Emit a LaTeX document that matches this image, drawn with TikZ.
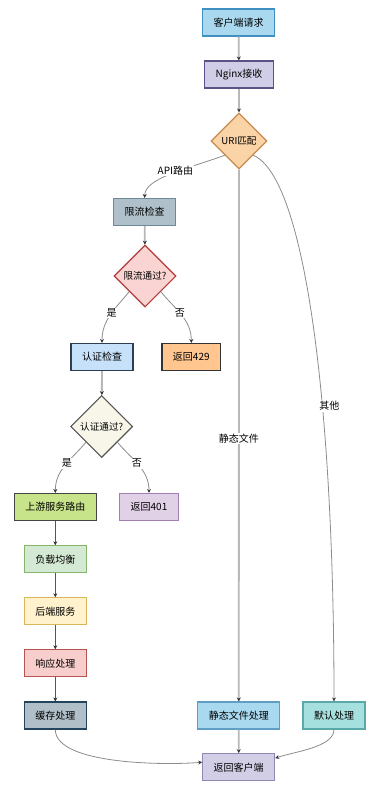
\documentclass[tikz,border=0pt]{standalone}
\usepackage{fontspec}
\setmainfont{Noto Sans CJK SC}
\usetikzlibrary{shapes.geometric, arrows.meta}

\definecolor{arrowdark}{HTML}{333333}
\definecolor{trunkgray}{HTML}{B8B8B8}
\definecolor{bendgray}{HTML}{8C8C8C}
\definecolor{chaingray}{HTML}{555555}

\tikzset{
    box/.style={draw, line width=1.1pt, rectangle, inner xsep=11pt, inner ysep=0pt,
        minimum height=27pt, font=\fontsize{10}{12}\selectfont},
    decision/.style={draw, line width=1.1pt, diamond, aspect=1, inner sep=0pt,
        font=\fontsize{9.6}{11}\selectfont},
    tip/.style={-{Stealth[length=4pt,width=4pt,color=arrowdark]}},
    trunk/.style={tip, draw=trunkgray, line width=1.8pt},
    curvelink/.style={tip, draw=bendgray, line width=0.8pt},
    chain/.style={tip, draw=chaingray, line width=0.8pt},
    lbl/.style={fill=white, inner sep=1pt, font=\fontsize{10}{12}\selectfont}
}

\begin{document}
\begin{tikzpicture}[x=1pt, y=-1pt]
    \useasboundingbox (0,0) rectangle (391,795);

    % top of the flow
    \node[box, fill={rgb,255:red,169;green,216;blue,239}, draw={rgb,255:red,63;green,143;blue,192}] (client) at (238.5, 22.5) {客户端请求};
    \node[box, fill={rgb,255:red,208;green,205;blue,230}, draw={rgb,255:red,91;green,82;blue,134}] (nginx) at (239, 74.5) {Nginx接收};
    \node[decision, minimum size=56pt, fill={rgb,255:red,250;green,211;blue,167}, draw={rgb,255:red,198;green,139;blue,78}] (uri) at (239, 141) {URI匹配};

    % api branch
    \node[box, fill={rgb,255:red,176;green,192;blue,202}, draw={rgb,255:red,111;green,136;blue,152}] (limit) at (144.7, 212) {限流检查};
    \node[decision, minimum size=62pt, fill={rgb,255:red,249;green,212;blue,211}, draw={rgb,255:red,179;green,59;blue,59}] (limitok) at (145, 276) {限流通过?};
    \node[box, fill={rgb,255:red,200;green,225;blue,251}, draw={rgb,255:red,46;green,61;blue,79}] (auth) at (102, 357) {认证检查};
    \node[box, fill={rgb,255:red,255;green,198;blue,144}, draw={rgb,255:red,51;green,51;blue,51}] (ret429) at (191.3, 357) {返回429};
    \node[decision, minimum size=62pt, fill={rgb,255:red,248;green,246;blue,233}, draw={rgb,255:red,85;green,85;blue,85}] (authok) at (101.7, 426.5) {认证通过?};
    \node[box, fill={rgb,255:red,200;green,228;blue,138}, draw={rgb,255:red,68;green,68;blue,68}] (upstream) at (55.3, 507) {上游服务路由};
    \node[box, fill={rgb,255:red,225;green,209;blue,230}, draw={rgb,255:red,162;green,127;blue,179}] (ret401) at (149, 507) {返回401};
    \node[box, fill={rgb,255:red,212;green,233;blue,212}, draw={rgb,255:red,132;green,181;blue,106}] (balance) at (55.3, 559.3) {负载均衡};
    \node[box, fill={rgb,255:red,255;green,242;blue,204}, draw={rgb,255:red,215;green,183;blue,90}] (backend) at (55.3, 611.3) {后端服务};
    \node[box, fill={rgb,255:red,248;green,206;blue,204}, draw={rgb,255:red,184;green,84;blue,80}] (reply) at (55.3, 663.3) {响应处理};
    \node[box, fill={rgb,255:red,177;green,191;blue,201}, draw={rgb,255:red,36;green,68;blue,94}] (cache) at (55.3, 715.5) {缓存处理};

    % other branches
    \node[box, fill={rgb,255:red,169;green,217;blue,239}, draw={rgb,255:red,95;green,159;blue,197}] (static) at (238.8, 715.5) {静态文件处理};
    \node[box, fill={rgb,255:red,166;green,224;blue,222}, draw={rgb,255:red,90;green,168;blue,170}] (default) at (334, 715.5) {默认处理};
    \node[box, fill={rgb,255:red,209;green,206;blue,230}, draw={rgb,255:red,142;green,137;blue,180}] (back) at (238.7, 767.2) {返回客户端};

    % straight links
    \draw[trunk] (client) -- (nginx);
    \draw[trunk] (nginx) -- (uri);
    \draw[trunk] (uri) -- node[lbl, pos=0.506] {静态文件} (static);
    \draw[trunk] (limit) -- (limitok);
    \draw[trunk] (auth) -- (authok);
    \draw[trunk] (static) -- (back);
    \draw[chain] (upstream) -- (balance);
    \draw[chain] (balance) -- (backend);
    \draw[chain] (backend) -- (reply);
    \draw[chain] (reply) -- (cache);

    % curved links
    \draw[curvelink] (uri.south west) to[out=-160, in=90, out distance=40pt, in distance=20pt] node[lbl, pos=0.45, yshift=2pt] {API路由} (limit.north);
    \draw[curvelink] (uri.south east) to[out=-23, in=90, out distance=56pt, in distance=300pt] node[lbl, pos=0.63, xshift=7pt] {其他} (default.north);
    \draw[curvelink] (limitok.south west) to[out=-130, in=90] node[lbl, pos=0.45] {是} (auth.north);
    \draw[curvelink] (limitok.south east) to[out=-50, in=90] node[lbl, pos=0.45] {否} (ret429.north);
    \draw[curvelink] (authok.south west) to[out=-130, in=90] node[lbl, pos=0.45] {是} (upstream.north);
    \draw[curvelink] (authok.south east) to[out=-50, in=90] node[lbl, pos=0.45] {否} (ret401.north);
    \draw[curvelink] (cache.south) to[out=-90, in=185, looseness=0.6] ([yshift=5pt]back.west);
    \draw[curvelink] (default.south) to[out=-90, in=20, looseness=0.7] ([yshift=9pt]back.east);
\end{tikzpicture}
\end{document}
